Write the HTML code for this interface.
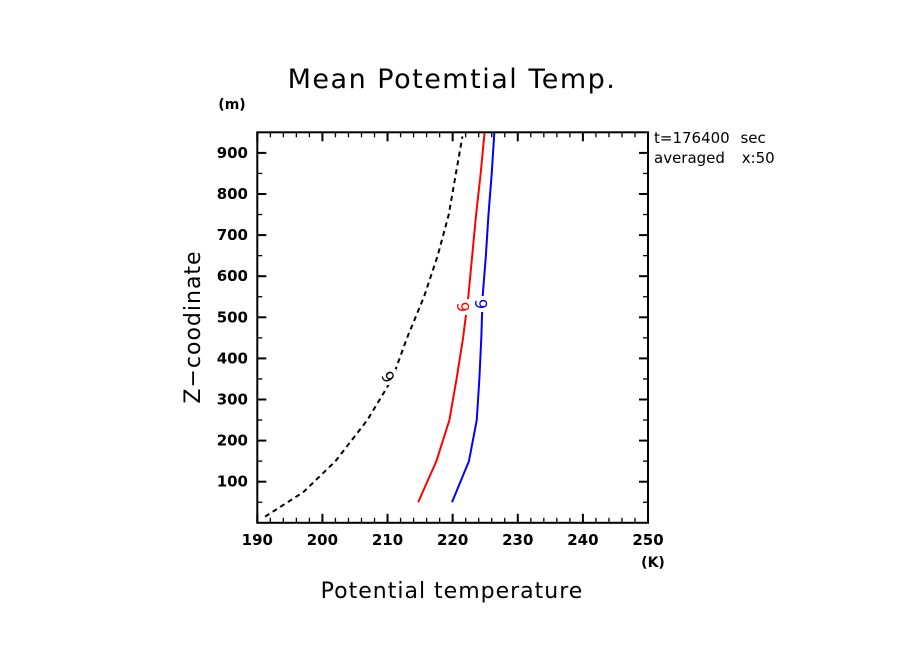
<!DOCTYPE html>
<html><head><meta charset="utf-8"><style>body{margin:0;background:#fff}svg{display:block}text{font-family:"DejaVu Sans","Liberation Sans",sans-serif}</style></head>
<body>
<svg id="c" width="904" height="654">
<text x="452" y="88" font-size="27" letter-spacing="1.5" text-anchor="middle">Mean Potemtial Temp.</text>
<text x="232" y="109" font-size="14" font-weight="bold" text-anchor="middle">(m)</text>
<text x="653" y="567" font-size="14" font-weight="bold" text-anchor="middle">(K)</text>
<text x="452" y="598" font-size="22" letter-spacing="1" text-anchor="middle">Potential temperature</text>
<text transform="translate(200,327) rotate(-90)" font-size="22" letter-spacing="1" text-anchor="middle">Z−coodinate</text>
<text x="654" y="143" font-size="15" word-spacing="6">t=176400 sec</text>
<text x="654" y="163" font-size="15" word-spacing="12">averaged x:50</text>
<rect x="776" y="125" width="40" height="45" fill="#fff"/>
<g id="ax"></g><g id="series"></g>
<rect x="257.3" y="132.3" width="390.7" height="390.5" fill="none" stroke="#000" stroke-width="2"/>
</svg>
<script>
const xTicks=[190,200,210,220,230,240,250];
const yTicks=[100,200,300,400,500,600,700,800,900];
const zBlack=[15,75,150,250,350,450,550,650,750,850,940];
const tBlack=[191.2,197.1,202.0,206.9,210.7,213.0,215.6,217.7,219.4,220.5,221.5];
const zLevels=[50,150,250,350,450,550,650,750,850,950];
const tRed=[214.7,217.5,219.5,220.6,221.6,222.4,223.0,223.6,224.3,224.9];
const tBlue=[219.9,222.5,223.7,224.1,224.4,224.6,225.1,225.5,226.0,226.4];
const X=t=>257.3+(t-190)*6.512, Y=z=>522.8-z*0.411;
const NS='http://www.w3.org/2000/svg';
function mk(tag,at,par){const e=document.createElementNS(NS,tag);for(const k in at)e.setAttribute(k,at[k]);par.appendChild(e);return e;}
const ax=document.getElementById('ax'),se=document.getElementById('series');
for(let t=190;t<=250;t+=2){const maj=t%10===0,l=maj?9:5;
 mk('line',{x1:X(t),x2:X(t),y1:522.8,y2:522.8-l,stroke:'#000','stroke-width':maj?2:1.3},ax);
 mk('line',{x1:X(t),x2:X(t),y1:132.3,y2:132.3+l,stroke:'#000','stroke-width':maj?2:1.3},ax);}
for(let z=50;z<=950;z+=50){const maj=z%100===0,l=maj?9:5;
 mk('line',{x1:257.3,x2:257.3+l,y1:Y(z),y2:Y(z),stroke:'#000','stroke-width':maj?2:1.3},ax);
 mk('line',{x1:648,x2:648-l,y1:Y(z),y2:Y(z),stroke:'#000','stroke-width':maj?2:1.3},ax);}
xTicks.forEach(t=>{const e=mk('text',{x:X(t),y:545,'font-size':15,'font-weight':'bold','text-anchor':'middle'},ax);e.textContent=t;

});
yTicks.forEach(z=>{const e=mk('text',{x:248,y:Y(z)+5,'font-size':15,'font-weight':'bold','text-anchor':'end'},ax);e.textContent=z;

});
function line(ts,zs,col,dash,name){const p=mk('polyline',{points:ts.map((t,i)=>X(t)+','+Y(zs[i])).join(' '),fill:'none',stroke:col,'stroke-width':2},se);
 if(dash)p.setAttribute('stroke-dasharray','5,4');
 
 }
line(tBlack,zBlack,'#000',true,'series-black-dashed');
line(tRed,zLevels,'#f00',false,'series-red');
line(tBlue,zLevels,'#00f',false,'series-blue');
function lab(x,y,col,rot,name){mk('rect',{x:x-8,y:y-8,width:16,height:16,fill:'#fff'},se);
 const e=mk('text',{x:0,y:0,'font-size':16,fill:col,'text-anchor':'middle',transform:`translate(${x},${y}) rotate(${rot}) translate(0,6)`},se);e.textContent='6';
 
 }
lab(388,377,'#000',-120,'contour-label-black');
lab(463,307,'#f00',-95,'contour-label-red');
lab(481,304,'#00f',-92,'contour-label-blue');
</script>
</body></html>
